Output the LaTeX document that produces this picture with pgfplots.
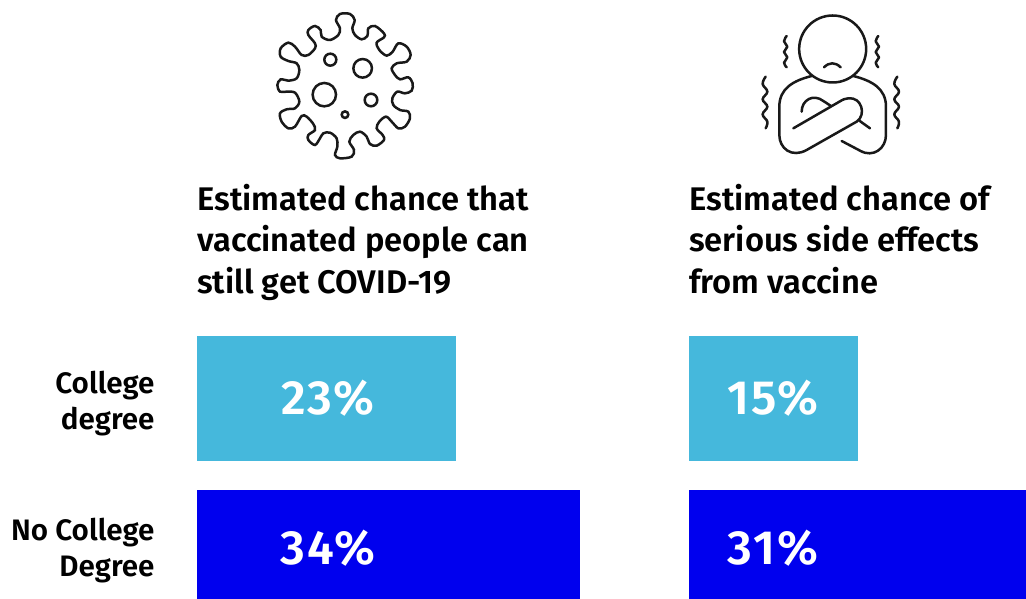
\documentclass[border=0pt]{standalone}
\usepackage{fontspec}
\usepackage{pgfplots}
\usepackage{pgfplotstable}
\pgfplotsset{compat=1.18}
\setmainfont{Fira Sans}[BoldFont={Fira Sans SemiBold}]
\definecolor{lblue}{HTML}{45B8DC}
\definecolor{dblue}{HTML}{0000EE}
\pgfplotstableread{
cat val
0 23
}\leftA
\pgfplotstableread{
cat val
1 34
}\leftB
\pgfplotstableread{
cat val
0 15
}\rightA
\pgfplotstableread{
cat val
1 31
}\rightB
\pgfplotstableread{
x y label
11.63 0 23\%
11.63 0.97 34\%
}\leftLabels
\pgfplotstableread{
x y label
7.46 0 15\%
7.46 0.97 31\%
}\rightLabels
\pgfplotsset{barax/.style={
  scale only axis, width=450.4pt, height=279pt, anchor=north west,
  xmin=0, xmax=40, ymin=-0.4058, ymax=1.4058, y dir=reverse,
  xbar, bar width=125pt, axis line style={draw=none}, tick style={draw=none},
  xtick=\empty, clip=true,
}}
\newcommand{\lbl}{\addplot[xbar=0pt, draw=none, fill=none, only marks, mark=none,
  nodes near coords, point meta=explicit symbolic,
  every node near coord/.style={anchor=center, text=white, font=\fontsize{48}{48}\selectfont\bfseries\addfontfeatures{LetterSpace=4}}]}
\begin{document}
\begin{tikzpicture}[x=1pt,y=-1pt]
\useasboundingbox (0,0) rectangle (1026,599);
\clip (0,0) rectangle (1026,599);
% Virus icon
\begin{scope}[shift={(260,0)},x=0.3333pt,y=-0.3333pt,line width=2.5pt,black!90]
\draw plot[smooth cycle,tension=0.55] coordinates {(228,60)(240,42)(270,42)(284,60)(277,85)(285,105)(305,118)(322,108)(325,85)(345,78)(372,100)(372,112)(350,128)(358,150)(380,167)(398,155)(415,130)(440,140)(452,165)(440,185)(410,190)(395,205)(405,225)(420,238)(445,232)(458,250)(455,272)(435,280)(412,275)(397,295)(400,315)(420,330)(445,335)(450,355)(435,380)(415,385)(395,365)(378,350)(358,365)(350,385)(368,405)(372,420)(350,437)(330,432)(320,410)(300,395)(280,405)(268,425)(282,450)(275,470)(240,475)(225,465)(232,440)(230,415)(210,398)(190,400)(180,415)(165,435)(145,420)(145,405)(165,390)(160,372)(140,350)(125,348)(105,380)(85,385)(65,365)(60,340)(80,328)(105,325)(118,305)(105,278)(80,275)(60,275)(52,255)(62,238)(85,242)(110,235)(118,210)(110,190)(85,183)(62,170)(62,145)(85,128)(105,140)(125,165)(145,165)(165,145)(165,130)(145,105)(145,90)(165,78)(182,90)(185,110)(210,120)(235,105)(240,85)};
\draw (211,179) circle[radius=6pt];
\draw (308,205) circle[radius=9.3pt];
\draw (193,284) circle[radius=11.7pt];
\draw (333,300) circle[radius=6.3pt];
\draw (255,344) circle[radius=3.3pt];
\end{scope}
% Person icon
\begin{scope}[shift={(750,0)},x=0.3333pt,y=-0.3333pt,line width=2.5pt,black!90,line cap=round,line join=round]
\draw (248,147) circle[radius=33.5pt];
\draw (222,202) .. controls (238,186) and (256,186) .. (272,202);
\draw (185,228) .. controls (130,242) and (88,265) .. (88,320) -- (88,405) .. controls (88,445) and (125,475) .. (170,450) -- (320,365) .. controls (350,345) and (335,290) .. (295,295) .. controls (285,296) and (280,298) .. (270,304) -- (130,385);
\draw (155,335) .. controls (155,300) and (190,280) .. (220,303) -- (243,318);
\draw (310,228) .. controls (365,242) and (408,265) .. (408,320) -- (408,405) .. controls (408,445) and (370,475) .. (330,452) -- (275,423);
\draw (328,362) -- (360,385);
\draw plot[smooth,tension=0.7] coordinates {(110,108)(102,124)(112,140)(102,156)(112,172)(102,188)(110,202)};
\draw plot[smooth,tension=0.7] coordinates {(385,108)(377,124)(387,140)(377,156)(387,172)(377,188)(385,202)};
\draw plot[smooth,tension=0.7] coordinates {(47,230)(38,252)(52,275)(38,298)(52,320)(38,343)(52,365)(47,385)};
\draw plot[smooth,tension=0.7] coordinates {(442,230)(433,252)(447,275)(433,298)(447,320)(433,343)(447,365)(442,385)};
\end{scope}
% Titles
\node[anchor=base west,inner sep=0pt,align=left,font=\fontsize{32.7}{41.5}\selectfont\bfseries] at (197,293) {Estimated chance that\\vaccinated people can\\still get COVID-19};
\node[anchor=base west,inner sep=0pt,align=left,font=\fontsize{32.7}{41.5}\selectfont\bfseries] at (689,293) {Estimated chance of\\serious side effects\\from vaccine};
% Left chart
\begin{axis}[barax, at={(197pt,-336pt)},
  ytick={0.035,0.99}, yticklabels={{College\\degree},{No College\\Degree}},
  yticklabel style={align=right, font=\fontsize{29.6}{36}\selectfont\bfseries, inner sep=0pt, xshift=-38pt}]
\addplot[bar shift=0pt, fill=lblue, draw=none] table[x=val,y=cat] {\leftA};
\addplot[bar shift=0pt, fill=dblue, draw=none] table[x=val,y=cat] {\leftB};
\lbl table[x=x,y=y,meta=label] {\leftLabels};
\end{axis}
% Right chart
\begin{axis}[barax, at={(689pt,-336pt)}, ytick=\empty]
\addplot[bar shift=0pt, fill=lblue, draw=none] table[x=val,y=cat] {\rightA};
\addplot[bar shift=0pt, fill=dblue, draw=none] table[x=val,y=cat] {\rightB};
\lbl table[x=x,y=y,meta=label] {\rightLabels};
\end{axis}
\end{tikzpicture}
\end{document}
